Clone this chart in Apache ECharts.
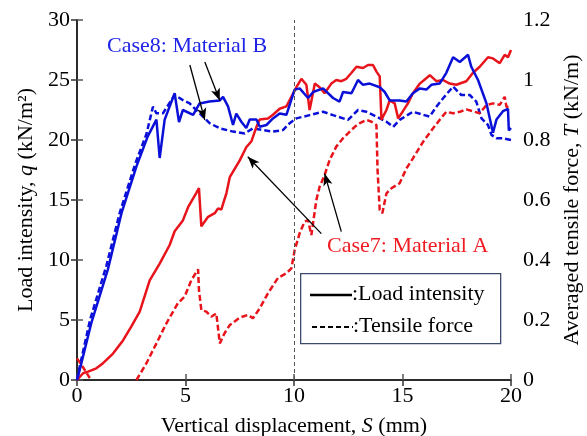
<!DOCTYPE html>
<html>
<head>
<meta charset="utf-8">
<script src="https://cdn.jsdelivr.net/npm/echarts@6/dist/echarts.min.js"></script>
<style>
  html, body { margin: 0; padding: 0; background: #fff; }
  #chart { width: 587px; height: 436px; }
</style>
</head>
<body>
<div id="chart"></div>
<script>
// x: vertical displacement S (mm)
const xTicks = [0, 5, 10, 15, 20]
const loadTicks = [0, 5, 10, 15, 20, 25, 30]
const tensileTicks = [0, 0.2, 0.4, 0.6, 0.8, 1.0, 1.2]

// Case8 (Material B) load intensity q, kN/m2
const case8Load = [
  [0, 0], [0.05, 0.3], [0.66, 4.75], [1.42, 9.2], [2.05, 13.9], [2.74, 17.8], [3.26, 20.3],
  [3.66, 21.7], [3.81, 18.5], [4.04, 21.7], [4.5, 23.9], [4.7, 21.5], [4.88, 22.5], [5.35, 22.1],
  [5.65, 23.05], [6.1, 23.2], [6.58, 23.3], [6.73, 23.6], [6.96, 22.8], [7.19, 21.25], [7.34, 22.2],
  [7.58, 21.5], [7.8, 21.0], [7.96, 21.7], [8.27, 21.7], [8.42, 21.1], [8.73, 21.25], [9.03, 21.8],
  [9.34, 22.2], [9.65, 22.1], [10.03, 24.2], [10.26, 24.3], [10.65, 23.5], [10.88, 24.0], [11.34, 24.3],
  [11.8, 23.5], [12.1, 23.2], [12.26, 24.0], [12.65, 23.9], [12.95, 25.0], [13.18, 24.6], [13.49, 24.7],
  [13.95, 24.4], [14.18, 24.0], [14.41, 23.3], [14.87, 23.3], [15.18, 23.2], [15.48, 23.9], [15.8, 24.3],
  [16.1, 24.2], [16.33, 24.6], [16.71, 24.7], [17.02, 25.6], [17.33, 26.9], [17.64, 26.5], [18.02, 27.1],
  [18.17, 26.1], [18.48, 25.0], [18.87, 23.05], [19.17, 20.6], [19.33, 21.7], [19.63, 22.4], [19.86, 22.6],
  [19.9, 20.8], [20, 21.0]
]

// Case8 (Material B) averaged tensile force T, kN/m
const case8Tensile = [
  [0, 0], [0.05, 0.02], [0.6, 0.2], [1.35, 0.38], [1.98, 0.56], [2.68, 0.72], [3.2, 0.82], [3.5, 0.911],
  [3.66, 0.889], [3.96, 0.889], [4.5, 0.95], [4.88, 0.933], [5.19, 0.922], [5.65, 0.889], [6.11, 0.856],
  [6.58, 0.839], [7.19, 0.828], [7.73, 0.822], [8.11, 0.839], [8.57, 0.833], [9.03, 0.828], [9.49, 0.833],
  [9.8, 0.856], [10.11, 0.872], [10.72, 0.883], [11.34, 0.894], [11.8, 0.883], [12.49, 0.867], [12.95, 0.9],
  [13.34, 0.894], [13.8, 0.878], [14.26, 0.861], [14.57, 0.844], [14.87, 0.867], [15.48, 0.894],
  [16.25, 0.878], [16.56, 0.911], [16.87, 0.939], [17.33, 0.978], [17.56, 0.961], [17.71, 0.95],
  [18.1, 0.95], [18.4, 0.928], [18.64, 0.872], [18.94, 0.85], [19.1, 0.817], [19.33, 0.806],
  [19.63, 0.806], [20, 0.8]
]

// Case7 (Material A) load intensity q, kN/m2
const case7Load = [
  [0, 0], [0.28, 0.56], [0.51, 0.7], [0.89, 0.97], [1.2, 1.4], [1.66, 2.2], [2.12, 3.3], [2.5, 4.45],
  [2.89, 5.7], [3.35, 8.3], [3.81, 9.7], [4.27, 11.25], [4.5, 12.4], [4.88, 13.3], [5.12, 14.4],
  [5.5, 15.6], [5.62, 16.0], [5.73, 12.8], [6.04, 13.6], [6.35, 13.9], [6.5, 14.3], [6.65, 14.2],
  [6.89, 15.6], [7.04, 16.9], [7.5, 18.3], [7.8, 19.4], [8.04, 19.9], [8.27, 21.1], [8.42, 21.7],
  [8.8, 21.8], [9.03, 22.1], [9.34, 22.6], [9.65, 22.8], [9.88, 23.6], [10.11, 24.4], [10.34, 25.1],
  [10.57, 24.6], [10.72, 22.5], [10.96, 24.7], [11.18, 24.4], [11.41, 23.9], [11.72, 24.7], [11.95, 25.0],
  [12.18, 24.9], [12.41, 25.1], [12.65, 25.6], [12.88, 26.1], [13.18, 26.0], [13.41, 26.25], [13.64, 26.25],
  [13.8, 25.7], [13.95, 25.3], [14.03, 21.7], [14.26, 22.5], [14.41, 23.3], [14.64, 23.05], [14.8, 21.8],
  [15.02, 22.4], [15.25, 23.05], [15.48, 23.9], [15.8, 24.7], [16.26, 25.4], [16.56, 24.9], [16.87, 25.0],
  [17.17, 24.7], [17.48, 24.6], [17.94, 24.9], [18.25, 25.6], [18.56, 26.1], [18.94, 26.9], [19.17, 26.8],
  [19.48, 26.4], [19.71, 27.1], [19.86, 26.9], [20, 27.5]
]

// Case7 (Material A) averaged tensile force T, kN/m (short piece at the origin, then the main curve)
const case7TensileStart = [[0, 0.072], [0.3, 0.04], [0.59, 0.006]]
const case7Tensile = [
  [2.74, 0], [3.2, 0.056], [3.66, 0.122], [4.12, 0.189], [4.65, 0.256], [4.96, 0.278], [5.27, 0.333],
  [5.58, 0.369], [5.62, 0.3], [5.73, 0.233], [5.96, 0.228], [6.19, 0.211], [6.42, 0.222], [6.58, 0.122],
  [6.8, 0.156], [7.04, 0.183], [7.5, 0.208], [7.88, 0.217], [8.11, 0.206], [8.42, 0.239], [8.8, 0.289],
  [9.26, 0.34], [9.65, 0.356], [9.88, 0.372], [10.03, 0.433], [10.26, 0.489], [10.49, 0.528], [10.65, 0.533],
  [10.8, 0.483], [11.03, 0.6], [11.18, 0.644], [11.41, 0.683], [11.64, 0.733], [11.95, 0.778], [12.26, 0.806],
  [12.57, 0.828], [12.8, 0.844], [13.03, 0.856], [13.34, 0.867], [13.57, 0.861], [13.8, 0.85], [13.85, 0.7],
  [13.95, 0.567], [14.07, 0.556], [14.26, 0.622], [14.49, 0.639], [14.87, 0.656], [15.18, 0.705],
  [15.48, 0.739], [15.95, 0.794], [16.41, 0.839], [16.71, 0.867], [17.02, 0.894], [17.33, 0.889],
  [17.64, 0.894], [17.94, 0.902], [18.33, 0.894], [18.56, 0.889], [18.87, 0.917], [19.17, 0.922],
  [19.48, 0.917], [19.71, 0.944], [19.79, 0.911], [20, 0.911]
]

// annotation arrows, [from, to] in (S, q) units
const case8Arrows = [[[5.2, 26.25], [5.89, 21.67]], [[5.89, 26.5], [6.58, 23.3]]]
const case7Arrows = [[[11.26, 12.2], [7.87, 18.6]], [[12.18, 12.36], [11.41, 17.2]]]

const legendLabels = [':Load intensity', ':Tensile force']

const BLUE = '#0a10d8'
const RED = '#e8141c'
const FONT = 'Liberation Serif'
const FS = 22
const dash = [6, 3]

const chart = echarts.init(document.getElementById('chart'), null, { renderer: 'canvas' })

const arrowLines = (arrows) => arrows.map(a => [{ coord: a[0] }, { coord: a[1] }])

const nameStyle = {
  fontFamily: FONT, fontSize: FS, color: '#000',
  rich: { i: { fontFamily: FONT, fontSize: FS, fontStyle: 'italic', color: '#000' } }
}

chart.setOption({
  animation: false,
  textStyle: { fontFamily: FONT },
  grid: { left: 77, right: 76, top: 20, bottom: 56, outerBoundsMode: 'none', containLabel: false },
  xAxis: [
    {
      type: 'value',
      min: 0,
      max: 20,
      interval: 5,
      name: 'Vertical displacement, {i|S} (mm)',
      nameLocation: 'middle',
      nameGap: 35,
      nameTextStyle: nameStyle,
      axisLine: { lineStyle: { color: '#555', width: 1.5 } },
      axisTick: { inside: true, length: 6, lineStyle: { color: '#555', width: 1.5 } },
      axisLabel: { fontFamily: FONT, fontSize: FS, color: '#000', margin: 5 },
      splitLine: { show: false }
    },
    {
      type: 'value',
      position: 'top',
      min: 0,
      max: 20,
      interval: 5,
      axisLine: { show: true, lineStyle: { color: '#111', width: 1.5 } },
      axisTick: { show: true, inside: true, length: 6, lineStyle: { color: '#333', width: 1.5 } },
      axisLabel: { show: false },
      splitLine: { show: false }
    }
  ],
  yAxis: [
    {
      type: 'value',
      min: 0,
      max: 30,
      interval: 5,
      name: 'Load intensity, {i|q} (kN/m²)',
      nameLocation: 'middle',
      nameRotate: 90,
      nameGap: 33,
      nameTextStyle: nameStyle,
      axisLine: { show: true, lineStyle: { color: '#555', width: 1.5 } },
      axisTick: { show: true, inside: true, length: 6, lineStyle: { color: '#555', width: 1.5 } },
      axisLabel: { fontFamily: FONT, fontSize: FS, color: '#000', margin: 7 },
      splitLine: { show: false }
    },
    {
      type: 'value',
      position: 'right',
      min: 0,
      max: 1.2,
      interval: 0.2,
      name: 'Averaged tensile force, {i|T} (kN/m)',
      nameLocation: 'middle',
      nameRotate: 90,
      nameGap: 48,
      nameTextStyle: nameStyle,
      axisLine: { show: true, lineStyle: { color: '#111', width: 1.5 } },
      axisTick: { show: true, inside: true, length: 6, lineStyle: { color: '#333', width: 1.5 } },
      axisLabel: {
        fontFamily: FONT, fontSize: FS, color: '#000', margin: 12,
        formatter: v => (v === 0 || v === 1 ? String(v) : v.toFixed(1))
      },
      splitLine: { show: false }
    }
  ],
  graphic: [
    {
      type: 'text',
      left: 107,
      top: 35,
      style: { text: 'Case8: Material B', fill: '#1f24e6', font: FS + 'px "Liberation Serif"' }
    },
    {
      type: 'text',
      left: 327,
      top: 235,
      style: { text: 'Case7: Material A', fill: '#f01c22', font: FS + 'px "Liberation Serif"' }
    },
    // legend box
    {
      type: 'rect',
      left: 300,
      top: 273,
      shape: { width: 200, height: 70 },
      style: { fill: '#fff', stroke: '#3c4a6e', lineWidth: 1.3 },
      z: 10
    },
    {
      type: 'line',
      shape: { x1: 310, y1: 295, x2: 352, y2: 295 },
      style: { stroke: '#000', lineWidth: 2.5 },
      z: 11
    },
    {
      type: 'line',
      shape: { x1: 312, y1: 327, x2: 353, y2: 327 },
      style: { stroke: '#000', lineWidth: 2, lineDash: [5, 3] },
      z: 11
    },
    {
      type: 'text',
      left: 352,
      top: 283,
      style: { text: legendLabels[0], fill: '#000', font: FS + 'px "Liberation Serif"' },
      z: 11
    },
    {
      type: 'text',
      left: 353,
      top: 315,
      style: { text: legendLabels[1], fill: '#000', font: FS + 'px "Liberation Serif"' },
      z: 11
    }
  ],
  series: [
    {
      name: 'Case8 load',
      type: 'line',
      data: case8Load,
      symbol: 'none',
      z: 4,
      lineStyle: { color: BLUE, width: 2.5 },
      markLine: {
        silent: true,
        symbol: ['none', 'arrow'],
        symbolSize: [7, 12],
        label: { show: false },
        lineStyle: { color: '#000', width: 1.3, type: 'solid' },
        data: arrowLines(case8Arrows).concat(arrowLines(case7Arrows))
      }
    },
    {
      name: 'Case8 tensile',
      type: 'line',
      yAxisIndex: 1,
      data: case8Tensile,
      symbol: 'none',
      z: 3,
      lineStyle: { color: BLUE, width: 2.5, type: dash }
    },
    {
      name: 'Case7 load',
      type: 'line',
      data: case7Load,
      symbol: 'none',
      z: 3,
      lineStyle: { color: RED, width: 2.5 },
      markLine: {
        silent: true,
        symbol: 'none',
        label: { show: false },
        lineStyle: { color: '#555', width: 1, type: [4, 3] },
        data: [{ xAxis: 10 }]
      }
    },
    {
      name: 'Case7 tensile start',
      type: 'line',
      yAxisIndex: 1,
      data: case7TensileStart,
      symbol: 'none',
      z: 3,
      lineStyle: { color: RED, width: 2.5, type: dash }
    },
    {
      name: 'Case7 tensile',
      type: 'line',
      yAxisIndex: 1,
      data: case7Tensile,
      symbol: 'none',
      z: 3,
      lineStyle: { color: RED, width: 2.5, type: dash }
    }
  ]
})
</script>
</body>
</html>
